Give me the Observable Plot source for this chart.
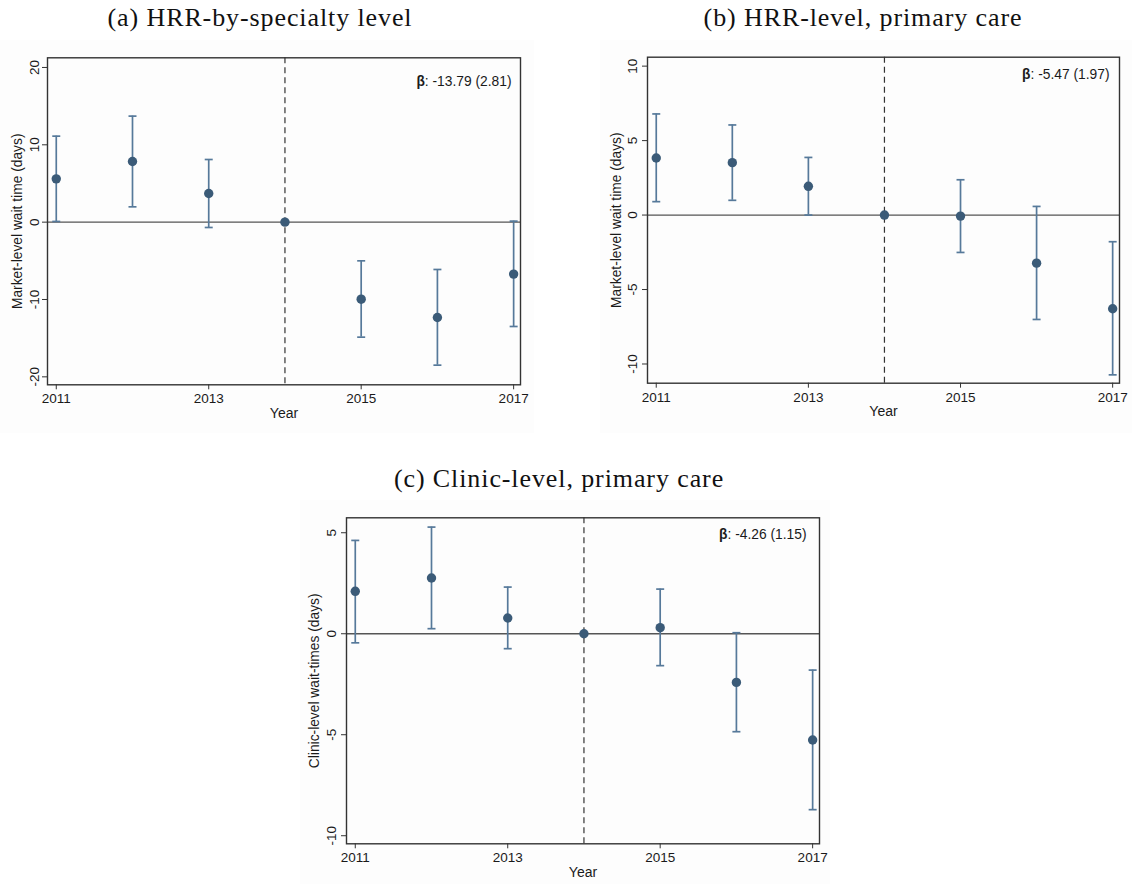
<!DOCTYPE html>
<html><head><meta charset="utf-8">
<script src="https://cdn.jsdelivr.net/npm/d3@7"></script>
<script src="https://cdn.jsdelivr.net/npm/@observablehq/plot@0.6"></script>
<style>
body{margin:0;background:#fff;width:1132px;height:884px;position:relative;overflow:hidden;font-family:"Liberation Sans",Arial,sans-serif}
.title{position:absolute;font-family:"Liberation Serif",serif;font-size:26px;color:#111;white-space:nowrap;transform:translateX(-50%);letter-spacing:0.9px;line-height:1}
.panel{position:absolute}
.panel svg{display:block}
</style></head><body>
<div class="title" style="left:260px;top:5px">(a) HRR-by-specialty level</div>
<div class="title" style="left:863px;top:5px">(b) HRR-level, primary care</div>
<div class="title" style="left:559px;top:466px">(c) Clinic-level, primary care</div>
<div id="pa" class="panel" style="left:0px;top:40px"></div>
<div id="pb" class="panel" style="left:600px;top:40px"></div>
<div id="pc" class="panel" style="left:300px;top:500px"></div>
<script>
// ---- data ----
const years = [2011, 2012, 2013, 2014, 2015, 2016, 2017];
const xTicks = [2011, 2013, 2015, 2017];
const eventYear = 2014;

// (a) HRR-by-specialty level
const aEst = [5.6, 7.84, 3.71, 0, -9.96, -12.33, -6.72];
const aLo  = [0.09, 1.98, -0.69, null, -14.87, -18.49, -13.49];
const aHi  = [11.12, 13.71, 8.10, null, -5.0, -6.12, 0.13];
const aTicks = [-20, -10, 0, 10, 20];

// (b) HRR-level, primary care
const bEst = [3.83, 3.52, 1.93, 0, -0.07, -3.23, -6.29];
const bLo  = [0.90, 0.99, 0.0, null, -2.51, -7.01, -10.73];
const bHi  = [6.79, 6.05, 3.87, null, 2.37, 0.58, -1.79];
const bTicks = [-10, -5, 0, 5, 10];

// (c) Clinic-level, primary care
const cEst = [2.10, 2.76, 0.78, 0, 0.30, -2.41, -5.26];
const cLo  = [-0.45, 0.25, -0.74, null, -1.58, -4.85, -8.71];
const cHi  = [4.62, 5.28, 2.31, null, 2.21, 0.05, -1.80];
const cTicks = [-10, -5, 0, 5];

const betas = [-13.79, -5.47, -4.26];
const ses = [2.81, 1.97, 1.15];
const yLabels = ["Market-level wait time (days)", "Market-level wait time (days)", "Clinic-level wait-times (days)"];

// ---- styling ----
const ptColor = "#3b5b78";
const barColor = "#56799a";
const capSymbol = {draw(ctx, size) { const r = Math.sqrt(size / Math.PI); ctx.moveTo(-r, 0); ctx.lineTo(r, 0); }};

function panel(o) {
  const rows = years.map((year, i) => ({year, est: o.est[i], lo: o.lo[i], hi: o.hi[i]}));
  const ci = rows.filter(d => d.lo != null);
  const svg = Plot.plot({
    width: o.width, height: o.height,
    marginLeft: o.ml, marginRight: o.mr, marginTop: o.mt, marginBottom: o.mb,
    x: {domain: [2010.885, 2017.09], axis: null},
    y: {domain: o.yDomain, axis: null},
    style: {background: "#fdfdfd", fontFamily: "'Liberation Sans', Arial, sans-serif", fontSize: "13.5px", color: "#1a1a1a", overflow: "visible"},
    marks: [
      Plot.ruleY([0], {stroke: "#555", strokeWidth: 1.3}),
      Plot.ruleX([eventYear], {stroke: "#333", strokeWidth: 1.2, strokeDasharray: "6,4"}),
      Plot.ruleX(ci, {x: "year", y1: "lo", y2: "hi", stroke: barColor, strokeWidth: 1.7}),
      Plot.dot(ci, {x: "year", y: "lo", symbol: capSymbol, r: 4, fill: "none", stroke: barColor, strokeWidth: 1.7}),
      Plot.dot(ci, {x: "year", y: "hi", symbol: capSymbol, r: 4, fill: "none", stroke: barColor, strokeWidth: 1.7}),
      Plot.dot(rows, {x: "year", y: "est", r: 4.7, fill: ptColor, stroke: "none"}),
      Plot.frame({stroke: "#333", strokeWidth: 1.4}),
      Plot.axisX(xTicks, {tickSize: 5, tickPadding: 4, tickFormat: d => String(d), label: null, fontSize: 13.5, stroke: "#333"}),
      Plot.axisY(o.ticks, {tickSize: 5, tickFormat: () => "", label: null, stroke: "#333"}),
      Plot.text(o.ticks, {y: d => d, text: d => String(d), frameAnchor: "left", dx: o.tickDx, rotate: -90, textAnchor: "middle", lineAnchor: "bottom", fontSize: 13.5}),
      Plot.text([o.yLabel], {frameAnchor: "left", dx: o.labelDx, rotate: -90, textAnchor: "middle", lineAnchor: "middle", fontSize: 13.8}),
      Plot.text(["Year"], {frameAnchor: "bottom", dy: 33, textAnchor: "middle", lineAnchor: "bottom", fontSize: 14}),
      Plot.text([`β: ${o.beta.toFixed(2)} (${o.se.toFixed(2)})`], {frameAnchor: "top-right", dx: o.betaDx, dy: o.betaDy, textAnchor: "end", lineAnchor: "middle", fontSize: 13.8})
    ]
  });
  // make the β bold
  svg.querySelectorAll("text").forEach(t => {
    const s = t.textContent;
    if (s.startsWith("β")) {
      t.textContent = "";
      const ns = "http://www.w3.org/2000/svg";
      const b = document.createElementNS(ns, "tspan");
      b.setAttribute("font-weight", "bold");
      b.textContent = "β";
      t.appendChild(b);
      const r = document.createElementNS(ns, "tspan");
      r.textContent = s.slice(1);
      t.appendChild(r);
    }
  });
  return svg;
}

document.getElementById("pa").appendChild(panel({
  est: aEst, lo: aLo, hi: aHi, ticks: aTicks, yDomain: [-21.03, 21.25], yLabel: yLabels[0],
  beta: betas[0], se: ses[0],
  width: 534, height: 393, ml: 47, mr: 14, mt: 17.3, mb: 48.7,
  tickDx: -8.5, labelDx: -30, betaDx: -9, betaDy: 24
}));
document.getElementById("pb").appendChild(panel({
  est: bEst, lo: bLo, hi: bHi, ticks: bTicks, yDomain: [-11.29, 10.6], yLabel: yLabels[1],
  beta: betas[1], se: ses[1],
  width: 532, height: 393, ml: 47, mr: 13, mt: 16.7, mb: 50.3,
  tickDx: -10.5, labelDx: -31, betaDx: -10, betaDy: 17
}));
document.getElementById("pc").appendChild(panel({
  est: cEst, lo: cLo, hi: cHi, ticks: cTicks, yDomain: [-10.40, 5.74], yLabel: yLabels[2],
  beta: betas[2], se: ses[2],
  width: 530, height: 384, ml: 46, mr: 11, mt: 17.3, mb: 40.7,
  tickDx: -10.5, labelDx: -32, betaDx: -13, betaDy: 17
}));
</script>
</body></html>
